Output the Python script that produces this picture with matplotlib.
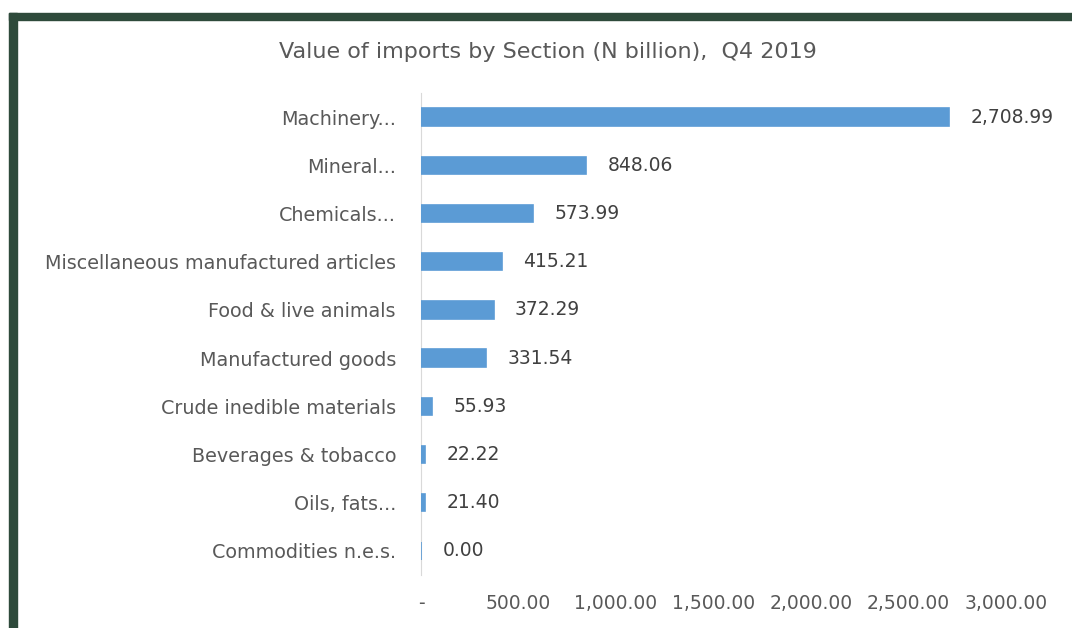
import matplotlib.pyplot as plt
from matplotlib.patches import Rectangle
from matplotlib.ticker import FuncFormatter

plt.rcParams['font.family'] = ['DejaVu Sans']

categories = ['Machinery...', 'Mineral...', 'Chemicals...',
              'Miscellaneous manufactured articles', 'Food & live animals',
              'Manufactured goods', 'Crude inedible materials',
              'Beverages & tobacco', 'Oils, fats...', 'Commodities n.e.s.']
values = [2708.99, 848.06, 573.99, 415.21, 372.29, 331.54, 55.93, 22.22, 21.40, 0.00]
xticks = [0, 500, 1000, 1500, 2000, 2500, 3000]

fig = plt.figure(figsize=(10.72, 6.28), dpi=100)
ax = fig.add_axes([421 / 1072, 1 - 575 / 628, 585 / 1072, 482 / 628])

pos = list(range(len(categories)))
ax.barh(pos, values, height=0.36, color='#5B9BD5', edgecolor='#5B9BD5',
        linewidth=1.2, zorder=3)
ax.set_ylim(len(categories) - 0.5, -0.5)
ax.set_xlim(0, 3000)

for p, v in zip(pos, values):
    ax.text(v + 110, p, f'{v:,.2f}', va='center', ha='left',
            fontsize=13.5, color='#404040')

ax.set_yticks(pos)
ax.set_yticklabels(categories, fontsize=13.8, color='#595959')
ax.set_xticks(xticks)
ax.xaxis.set_major_formatter(FuncFormatter(lambda x, _: '-' if x == 0 else f'{x:,.2f}'))
for lbl in ax.get_xticklabels():
    lbl.set_fontsize(13.5)
    lbl.set_color('#595959')
ax.tick_params(axis='both', length=0)
ax.tick_params(axis='y', pad=18)
ax.tick_params(axis='x', pad=14)

for s in ['top', 'right', 'bottom']:
    ax.spines[s].set_visible(False)
ax.spines['left'].set_color('#d9d9d9')

fig.text(548 / 1072, 1 - 52 / 628, 'Value of imports by Section (N billion),  Q4 2019',
         ha='center', va='center', fontsize=16, color='#595959')

# dark frame of the chart (cropped at right and bottom)
fig.patches.append(Rectangle((9 / 1072, 0), 8 / 1072, 1 - 13 / 628,
                             transform=fig.transFigure, color='#2e4a3b'))
fig.patches.append(Rectangle((9 / 1072, 1 - 20 / 628), 1, 7 / 628,
                             transform=fig.transFigure, color='#2e4a3b'))

fig.savefig('out.png', dpi=100)
